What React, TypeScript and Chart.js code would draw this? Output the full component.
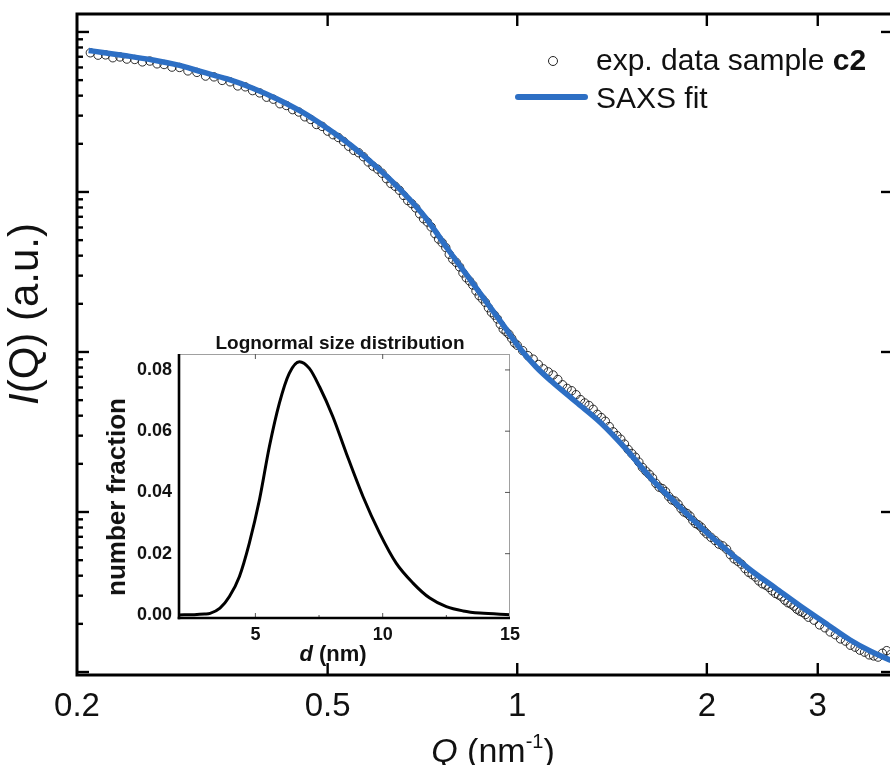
import React, { useEffect, useRef } from 'react';
import { Chart, registerables } from 'chart.js';
Chart.register(...registerables);

// ---- main plot: experimental SAXS data (Q in nm^-1, I in a.u.) ----
const EXP_Q = [
  0.21, 0.216, 0.222, 0.228, 0.234, 0.24, 0.247, 0.254, 0.261, 0.268, 0.275, 0.283, 0.291, 0.3,
  0.31, 0.32, 0.33, 0.34, 0.35, 0.36, 0.37, 0.38, 0.39, 0.4, 0.41, 0.42, 0.43, 0.44, 0.45, 0.46, 0.47, 0.48, 0.49, 0.5,
  0.51, 0.52, 0.53, 0.54, 0.55, 0.56, 0.57, 0.58, 0.59, 0.6, 0.61, 0.62, 0.63, 0.64, 0.65, 0.66, 0.67, 0.68, 0.69, 0.7,
  0.71, 0.72, 0.73, 0.74, 0.75, 0.76, 0.77, 0.78, 0.79, 0.8, 0.81, 0.82, 0.83, 0.84, 0.85, 0.86, 0.87, 0.88, 0.89, 0.9,
  0.91, 0.92, 0.93, 0.94, 0.95, 0.96, 0.97, 0.98, 0.99, 1.0,
  1.02, 1.04, 1.06, 1.08, 1.1, 1.12, 1.14, 1.16, 1.18, 1.2, 1.22, 1.24, 1.26, 1.28, 1.3, 1.32, 1.34, 1.36, 1.38, 1.4,
  1.42, 1.44, 1.46, 1.48, 1.5, 1.52, 1.54, 1.56, 1.58, 1.6, 1.62, 1.64, 1.66, 1.68, 1.7, 1.72, 1.74, 1.76, 1.78, 1.8,
  1.82, 1.84, 1.86, 1.88, 1.9, 1.92, 1.94, 1.96, 1.98, 2.0,
  2.03, 2.06, 2.09, 2.12, 2.15, 2.18, 2.21, 2.24, 2.27, 2.3, 2.33, 2.36, 2.39, 2.42, 2.45, 2.48, 2.51, 2.54, 2.57, 2.6,
  2.63, 2.66, 2.69, 2.72, 2.75, 2.78, 2.81, 2.84, 2.87, 2.9, 2.96, 3.02, 3.08, 3.14, 3.2, 3.26, 3.32, 3.38, 3.44, 3.5,
  3.56, 3.62, 3.68, 3.74, 3.8, 3.86, 3.92,
];
const EXP_I = [
  7410, 7160, 7190, 6900, 6980, 6770, 6730, 6500, 6580, 6320, 6260, 6030, 6000, 5710,
  5590, 5300, 5240, 4980, 4880, 4600, 4540, 4300, 4160, 3910, 3800, 3560, 3470, 3270, 3160, 2950, 2840, 2640, 2570, 2400,
  2280, 2190, 2070, 1930, 1820, 1760, 1660, 1540, 1450, 1390, 1310, 1210, 1130, 1085, 1025, 951, 885, 846, 795, 730,
  680, 649, 605, 549, 508, 482, 450, 408, 380, 363, 340, 312, 291, 278, 262, 241, 225, 215, 204, 189,
  177, 170, 161, 149, 139, 134, 129, 121.5, 114, 110.1,
  102, 94.8, 90.2, 83.6, 78.5, 75.1, 71.8, 67.3, 62.4, 59.2, 57.3, 54.1, 50.4, 48.0, 46.3, 43.8, 40.8, 38.9, 36.9, 34.2,
  31.7, 30.0, 28.5, 26.6, 24.6, 23.2, 22.0, 20.5, 19.0, 18.0, 17.2, 16.3, 15.1, 14.3, 14.0, 13.4, 12.5, 11.9, 11.7, 11.2,
  10.5, 10.0, 9.8, 9.43, 8.85, 8.47, 8.3, 8.02, 7.6, 7.31,
  6.95, 6.64, 6.3, 6.14, 5.85, 5.41, 5.1, 4.92, 4.72, 4.43, 4.2, 4.06, 3.92, 3.71, 3.56, 3.49, 3.38, 3.22, 3.1, 3.03,
  2.95, 2.81, 2.71, 2.66, 2.58, 2.47, 2.4, 2.36, 2.29, 2.2, 2.11, 1.97, 1.89, 1.78, 1.71, 1.61, 1.56, 1.47, 1.43, 1.37,
  1.33, 1.28, 1.26, 1.24, 1.31, 1.36, 1.29,
];

// ---- main plot: SAXS fit ----
const FIT_Q = [
  0.2087, 0.2197, 0.2406, 0.2636, 0.2887, 0.3162, 0.3464, 0.3795, 0.4157, 0.4552, 0.4985, 0.5461, 0.598,
  0.6552, 0.7178, 0.7776, 0.8304, 0.8771, 0.9434, 1.0147, 1.0717, 1.132, 1.2398, 1.358, 1.4874, 1.6295,
  1.7849, 1.9553, 2.1413, 2.3459, 2.5693, 2.8143, 3.0829, 3.3773, 3.6325, 3.9065, 4.127,
];
const FIT_I = [
  7663, 7446, 7079, 6683, 6221, 5623, 5085, 4467, 3814, 3162, 2512, 1939, 1433,
  1015, 678, 434, 305, 227, 152.9, 102.9, 80.6, 65.9, 48.7, 36.0, 24.8, 16.3,
  11.38, 8.06, 5.87, 4.34, 3.35, 2.585, 2.024, 1.585, 1.353, 1.189, 1.09,
];

const X_TICKS = [0.2, 0.5, 1, 2, 3];
const Y_DECADES = [1, 10, 100, 1000, 10000];
const Y_MINOR_FACTORS = [2, 3, 4, 5, 6, 7, 8, 9];

// ---- inset: lognormal size distribution ----
const INSET_D = [2.0, 2.6, 3.0, 3.22, 3.61, 3.98, 4.37, 4.76, 5.16, 5.55, 5.94, 6.33, 6.73, 7.12, 7.52, 8.04, 8.57, 9.23, 9.88, 10.53, 11.19, 11.85, 12.5, 13.16, 13.82, 15.0];
const INSET_F = [0.0, 0.0001, 0.0003, 0.0005, 0.0022, 0.006, 0.0125, 0.0234, 0.0376, 0.055, 0.0691, 0.0789, 0.0827, 0.0805, 0.0745, 0.0648, 0.0528, 0.0386, 0.0267, 0.0169, 0.0104, 0.0055, 0.0027, 0.0013, 0.0006, 0.0001];
const INSET_X_TICKS = [5, 10, 15];
const INSET_X_MINOR = [7.5, 12.5];
const INSET_Y_TICKS = [0, 0.02, 0.04, 0.06, 0.08];

const FONT = "'Liberation Sans', Arial, Helvetica, sans-serif";
const BLUE = '#2d6fc4';

const mainFrame = {
  id: 'mainFrame',
  afterDraw(chart: any) {
    const { ctx, chartArea: a, scales } = chart;
    const xs = scales.x;
    const ys = scales.y;
    ctx.save();
    ctx.strokeStyle = '#000';
    ctx.lineWidth = 3;
    ctx.strokeRect(a.left, a.top, a.right - a.left, a.bottom - a.top);
    const seg = (x1: number, y1: number, x2: number, y2: number) => {
      ctx.beginPath();
      ctx.moveTo(x1, y1);
      ctx.lineTo(x2, y2);
      ctx.stroke();
    };
    ctx.lineWidth = 2.4;
    for (const v of X_TICKS) {
      const px = xs.getPixelForValue(v);
      if (px <= a.left + 2) continue;
      seg(px, a.bottom, px, a.bottom - 12);
      seg(px, a.top, px, a.top + 12);
    }
    for (const d of Y_DECADES) {
      const py = ys.getPixelForValue(d);
      if (py >= a.top && py <= a.bottom) {
        seg(a.left, py, a.left + 12, py);
        seg(a.right, py, a.right - 12, py);
      }
      for (const m of Y_MINOR_FACTORS) {
        const pm = ys.getPixelForValue(d * m);
        if (pm >= a.top && pm <= a.bottom) seg(a.left, pm, a.left + 6, pm);
      }
    }
    ctx.restore();
  },
};

const insetFrame = {
  id: 'insetFrame',
  afterDraw(chart: any) {
    const { ctx, chartArea: a, scales } = chart;
    const xs = scales.x;
    const ys = scales.y;
    const seg = (x1: number, y1: number, x2: number, y2: number) => {
      ctx.beginPath();
      ctx.moveTo(x1, y1);
      ctx.lineTo(x2, y2);
      ctx.stroke();
    };
    ctx.save();
    ctx.strokeStyle = '#a0a0a0';
    ctx.lineWidth = 1;
    seg(a.left, a.top + 0.5, a.right, a.top + 0.5);
    seg(a.right - 0.5, a.top, a.right - 0.5, a.bottom);
    ctx.strokeStyle = '#555';
    for (const v of INSET_X_TICKS) {
      const px = xs.getPixelForValue(v);
      if (px >= a.right - 1) continue;
      seg(px, a.top, px, a.top + 5);
      seg(px, a.bottom, px, a.bottom - 5);
    }
    for (const v of INSET_X_MINOR) {
      const px = xs.getPixelForValue(v);
      seg(px, a.bottom, px, a.bottom - 3);
    }
    for (const v of INSET_Y_TICKS) {
      if (v === 0) continue;
      const py = ys.getPixelForValue(v);
      seg(a.right, py, a.right - 5, py);
    }
    ctx.strokeStyle = '#000';
    ctx.lineWidth = 2.6;
    seg(a.left, a.top, a.left, a.bottom + 1.3);
    seg(a.left - 1.3, a.bottom, a.right, a.bottom);
    ctx.restore();
  },
};

export default function App() {
  const mainRef = useRef<HTMLCanvasElement | null>(null);
  const insetRef = useRef<HTMLCanvasElement | null>(null);

  useEffect(() => {
    if (!mainRef.current || !insetRef.current) return;
    const main = new Chart(mainRef.current, {
      type: 'scatter',
      data: {
        datasets: [
          {
            label: 'SAXS fit',
            data: FIT_Q.map((q, i) => ({ x: q, y: FIT_I[i] })),
            showLine: true,
            borderColor: BLUE,
            backgroundColor: BLUE,
            borderWidth: 5.5,
            pointRadius: 0,
            tension: 0.4,
            cubicInterpolationMode: 'monotone',
            order: 0,
          } as any,
          {
            label: 'exp. data sample c2',
            data: EXP_Q.map((q, i) => ({ x: q, y: EXP_I[i] })),
            showLine: false,
            pointStyle: 'circle',
            pointRadius: 4.2,
            pointBorderWidth: 0.9,
            borderColor: '#161616',
            backgroundColor: 'rgba(0,0,0,0)',
            order: 1,
          } as any,
        ],
      },
      options: {
        responsive: false,
        animation: false,
        events: [],
        layout: { padding: { left: 77, right: 12, top: 14, bottom: 0 } },
        plugins: { legend: { display: false }, tooltip: { enabled: false } },
        scales: {
          x: {
            type: 'logarithmic',
            min: 0.2,
            max: 3.95,
            position: 'bottom',
            grid: { display: false, drawTicks: false },
            border: { display: false },
            ticks: {
              font: { family: FONT, size: 33 },
              color: '#111',
              padding: 12,
              maxRotation: 0,
              autoSkip: false,
              callback: (v: any) => String(v),
            },
            afterBuildTicks: (s: any) => {
              s.ticks = X_TICKS.map((v) => ({ value: v }));
            },
            afterFit: (s: any) => {
              s.height = 90;
            },
          },
          y: { type: 'logarithmic', min: 0.958, max: 12950, display: false },
        },
      } as any,
      plugins: [mainFrame],
    });

    const inset = new Chart(insetRef.current, {
      type: 'scatter',
      data: {
        datasets: [
          {
            label: 'Lognormal size distribution',
            data: INSET_D.map((d, i) => ({ x: d, y: INSET_F[i] })),
            showLine: true,
            borderColor: '#000',
            backgroundColor: '#000',
            borderWidth: 3,
            pointRadius: 0,
            tension: 0.4,
            cubicInterpolationMode: 'monotone',
          } as any,
        ],
      },
      options: {
        responsive: false,
        animation: false,
        events: [],
        layout: { padding: { left: 0, right: 20, top: 34, bottom: 0 } },
        plugins: { legend: { display: false }, tooltip: { enabled: false } },
        scales: {
          x: {
            type: 'linear',
            min: 2,
            max: 15,
            grid: { display: false, drawTicks: false },
            border: { display: false },
            ticks: {
              font: { family: FONT, size: 18, weight: 'bold' },
              color: '#111',
              padding: 6,
              maxRotation: 0,
              autoSkip: false,
            },
            afterBuildTicks: (s: any) => {
              s.ticks = INSET_X_TICKS.map((v) => ({ value: v }));
            },
            afterFit: (s: any) => {
              s.height = 62;
            },
          },
          y: {
            type: 'linear',
            min: -0.001,
            max: 0.0852,
            grid: { display: false, drawTicks: false },
            border: { display: false },
            ticks: {
              font: { family: FONT, size: 18, weight: 'bold' },
              color: '#111',
              padding: 7,
              autoSkip: false,
              callback: (v: any) => Number(v).toFixed(2),
            },
            afterBuildTicks: (s: any) => {
              s.ticks = INSET_Y_TICKS.map((v) => ({ value: v }));
            },
            afterFit: (s: any) => {
              s.width = 119;
            },
          },
        },
      } as any,
      plugins: [insetFrame],
    });

    return () => {
      main.destroy();
      inset.destroy();
    };
  }, []);

  const abs = (o: React.CSSProperties): React.CSSProperties => ({ position: 'absolute', whiteSpace: 'nowrap', ...o });

  return (
    <div
      style={{
        position: 'absolute',
        left: 0,
        top: 0,
        width: 890,
        height: 765,
        overflow: 'hidden',
        background: '#fff',
        fontFamily: FONT,
        color: '#111',
      }}
    >
      <canvas ref={mainRef} width={905} height={765} style={{ position: 'absolute', left: 0, top: 0, width: 905, height: 765, display: 'block' }} />
      <canvas ref={insetRef} width={470} height={360} style={{ position: 'absolute', left: 60, top: 320, width: 470, height: 360, display: 'block' }} />

      {/* main axis titles */}
      <div style={abs({ left: 24, top: 314, fontSize: 42, lineHeight: '42px', transform: 'translate(-50%, -50%) rotate(-90deg)' })}>
        <i>I</i>(Q) (a.u.)
      </div>
      <div style={abs({ left: 493, top: 733, fontSize: 34, lineHeight: '34px', transform: 'translateX(-50%)' })}>
        <i>Q</i> (nm<span style={{ fontSize: 20, lineHeight: 1, position: 'relative', top: -14 }}>-1</span>)
      </div>

      {/* legend */}
      <div style={abs({ left: 548, top: 56, width: 10, height: 10, boxSizing: 'border-box', border: '1.2px solid #222', borderRadius: '50%' })} />
      <div style={abs({ left: 596, top: 45, fontSize: 30, lineHeight: '30px' })}>
        exp. data sample <b>c2</b>
      </div>
      <div style={abs({ left: 515, top: 94, width: 73, height: 6, background: BLUE, borderRadius: 3 })} />
      <div style={abs({ left: 596, top: 83, fontSize: 30, lineHeight: '30px' })}>SAXS fit</div>

      {/* inset titles */}
      <div style={abs({ left: 340, top: 333, fontSize: 19, lineHeight: '19px', fontWeight: 'bold', transform: 'translateX(-50%)' })}>
        Lognormal size distribution
      </div>
      <div style={abs({ left: 116, top: 497, fontSize: 26, lineHeight: '26px', fontWeight: 'bold', transform: 'translate(-50%, -50%) rotate(-90deg)' })}>
        number fraction
      </div>
      <div style={abs({ left: 333, top: 643, fontSize: 22, lineHeight: '22px', fontWeight: 'bold', transform: 'translateX(-50%)' })}>
        <i>d</i> (nm)
      </div>
    </div>
  );
}
